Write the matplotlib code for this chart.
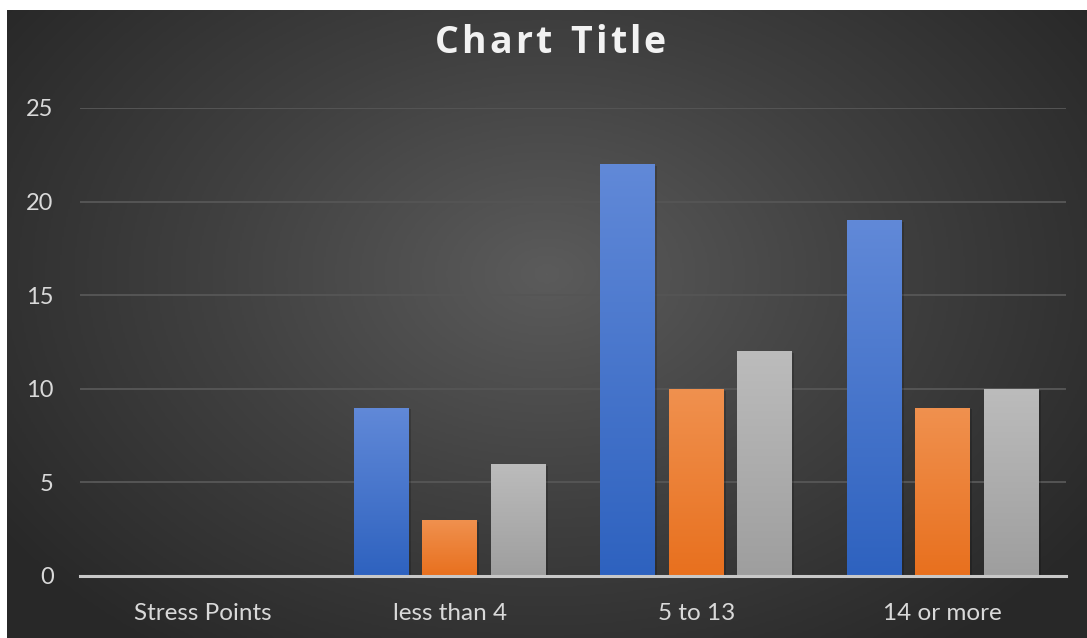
import numpy as np
import matplotlib
matplotlib.use("Agg")
import matplotlib.pyplot as plt
from matplotlib.colors import LinearSegmentedColormap
from matplotlib.patches import Rectangle

categories = ["Stress Points", "less than 4", "5 to 13", "14 or more"]
series1 = [0, 9, 22, 19]
series2 = [0, 3, 10, 9]
series3 = [0, 6, 12, 10]
yticks = [0, 5, 10, 15, 20, 25]
title = "Chart Title"

W, H = 1087, 638
fig = plt.figure(figsize=(W / 100, H / 100), dpi=100)
fig.patch.set_facecolor("white")

# background chart area with radial gradient
bx0, by0 = 7, 10
bg = fig.add_axes([bx0 / W, 0, (W - bx0) / W, (H - by0) / H])
bg.set_axis_off()
nx, ny = 540, 314
xx, yy = np.meshgrid(np.linspace(0, 1, nx), np.linspace(0, 1, ny))
cx, cy = 0.5, 0.42
r = np.sqrt(((xx - cx) / 0.62) ** 2 + ((yy - cy) / 0.75) ** 2)
r = np.clip(r, 0, 1)
cmap_bg = LinearSegmentedColormap.from_list("bg", ["#5b5b5b", "#404040", "#282828"])
bg.imshow(r, cmap=cmap_bg, vmin=0, vmax=1, aspect="auto", extent=[0, 1, 1, 0],
          interpolation="bilinear")
bg.set_xlim(0, 1)
bg.set_ylim(1, 0)

# main plot
px0, px1 = 80, 1066
py0, py1 = 576, 108
ax = fig.add_axes([px0 / W, (H - py0) / H, (px1 - px0) / W, (py0 - py1) / H])
ax.patch.set_alpha(0)
ax.set_xlim(-0.5, 3.5)
ax.set_ylim(0, 25)

for s in ["top", "right", "left"]:
    ax.spines[s].set_visible(False)
ax.spines["bottom"].set_color("#c8c8c8")
ax.spines["bottom"].set_linewidth(2.2)
ax.spines["bottom"].set_zorder(5)

ax.set_yticks(yticks)
ax.set_yticklabels([str(t) for t in yticks])
ax.grid(axis="y", color="#555555", linewidth=1.4)
ax.set_axisbelow(True)
ax.tick_params(axis="y", length=0, pad=19, labelsize=17, labelcolor="#d9d9d9")
ax.tick_params(axis="x", length=0, pad=19.5, labelsize=17.5, labelcolor="#d9d9d9")
x = np.arange(len(categories))
ax.set_xticks(x)
ax.set_xticklabels(categories)
for lab in ax.get_xticklabels() + ax.get_yticklabels():
    lab.set_family(["Lato", "DejaVu Sans"])

bw = 0.223
step = 0.278
grads = [("#6189d8", "#2e62bf"), ("#f0914f", "#e8701e"), ("#bcbcbc", "#9e9e9e")]
grad = np.linspace(0, 1, 256).reshape(-1, 1)
for i, vals in enumerate([series1, series2, series3]):
    cm = LinearSegmentedColormap.from_list(f"g{i}", [grads[i][1], grads[i][0]])
    bars = ax.bar(x + (i - 1) * step, vals, width=bw, color=grads[i][1], zorder=3)
    for b in bars:
        h = b.get_height()
        if h <= 0:
            continue
        xb = b.get_x()
        sh = Rectangle((xb + 0.008, -0.1), bw, h, facecolor="black", alpha=0.18,
                       edgecolor="none", zorder=2.5)
        ax.add_patch(sh)
        im = ax.imshow(grad, cmap=cm, aspect="auto", origin="lower",
                       extent=[xb, xb + bw, 0, h], zorder=3.5)
        im.set_clip_path(b)

ax.set_xlim(-0.5, 3.5)
ax.set_ylim(0, 25)

# letter-spaced title
fig.canvas.draw()
renderer = fig.canvas.get_renderer()
tprops = dict(color="#f2f2f2", fontsize=27, fontweight="bold",
              family=["Open Sans", "DejaVu Sans"], va="center", ha="left")
spacing = 3.0  # px
widths = []
for ch in title:
    t = fig.text(0, 0, ch if ch != " " else "n", **tprops)
    bb = t.get_window_extent(renderer)
    w = bb.width if ch != " " else bb.width * 0.55
    widths.append(w)
    t.remove()
total = sum(widths) + spacing * (len(title) - 1)
xpos = 550 - total / 2
ypix = H - 43
for ch, w in zip(title, widths):
    if ch != " ":
        fig.text(xpos / W, ypix / H, ch, **tprops)
    xpos += w + spacing

fig.savefig("out.png", dpi=100, facecolor=fig.get_facecolor())
